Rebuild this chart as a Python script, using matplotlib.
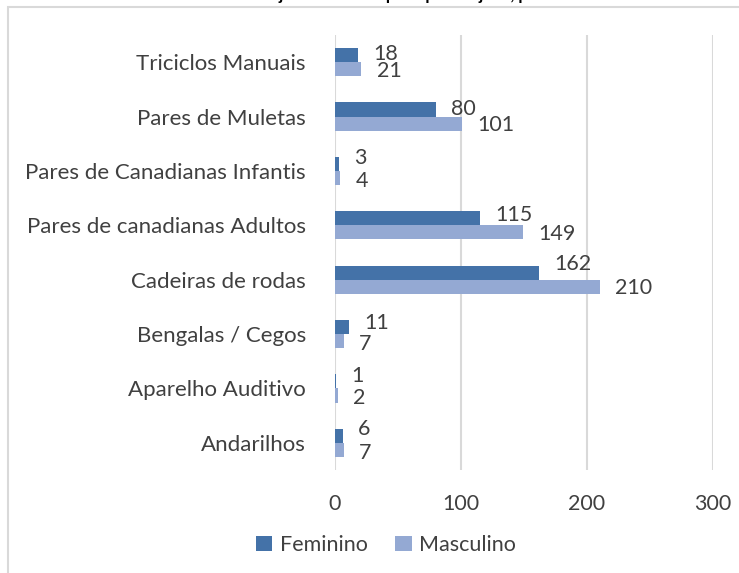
import numpy as np
import matplotlib.pyplot as plt
from matplotlib.patches import Rectangle

categorias = ['Andarilhos', 'Aparelho Auditivo', 'Bengalas / Cegos', 'Cadeiras de rodas',
              'Pares de canadianas Adultos', 'Pares de Canadianas Infantis',
              'Pares de Muletas', 'Triciclos Manuais']
feminino = [6, 1, 11, 162, 115, 3, 80, 18]
masculino = [7, 2, 7, 210, 149, 4, 101, 21]
xticks = [0, 100, 200, 300]

cor_fem = '#4472A8'
cor_masc = '#94A9D3'
cinza = '#404040'

plt.rcParams['font.family'] = ['Lato', 'DejaVu Sans']

fig = plt.figure(figsize=(7.39, 5.73), dpi=100)

# moldura do grafico (cortada a direita e em baixo)
fig.patches.append(Rectangle((8 / 739, -0.1), 1.2, 1.1 - 7 / 573, transform=fig.transFigure,
                             fill=False, edgecolor='#D9D9D9', linewidth=1.5))

# titulo cortado no topo
fig.text(-0.01, 1.0, 'Gráfico 12 - Número de cedências de ajudas técnicas por tipo de ajuda, por sexo',
         fontsize=12, fontweight='bold', va='baseline', ha='left', color='black')

ax = fig.add_axes([335 / 739, 1 - 470 / 573, 378 / 739, 435 / 573])

y = np.arange(len(categorias))
h = 0.26
b1 = ax.barh(y + h / 2, feminino, height=h, color=cor_fem, label='Feminino', zorder=3)
b2 = ax.barh(y - h / 2, masculino, height=h, color=cor_masc, label='Masculino', zorder=3)

# pequenos desvios verticais dos rotulos (como o Excel os afasta)
dy_fem = [5, 4, 3, 6, 2, 4, 0, 1]
dy_masc = [-2, -2, -2, -1, -1, -2, -1, -1]
for bars, dys in ((b1, dy_fem), (b2, dy_masc)):
    for bar, dy in zip(bars, dys):
        w = bar.get_width()
        ax.annotate(str(int(w)), (w, bar.get_y() + bar.get_height() / 2),
                    xytext=(11, dy), textcoords='offset points',
                    va='center', ha='left', fontsize=15.5, color=cinza)

ax.set_xlim(0, 300)
ax.set_ylim(-0.5, len(categorias) - 0.5)
ax.set_xticks(xticks)
ax.set_yticks(y)
ax.set_yticklabels(categorias)
ax.tick_params(axis='x', length=0, pad=17, labelsize=15.5, labelcolor=cinza)
ax.tick_params(axis='y', length=0, pad=21, labelsize=16, labelcolor=cinza)
for s in ax.spines.values():
    s.set_visible(False)
ax.grid(axis='x', color='#D9D9D9', linewidth=1.5, zorder=0)

ax.legend(loc='center', bbox_to_anchor=(386 / 739, 1 - 545 / 573), bbox_transform=fig.transFigure,
          ncol=2, frameon=False, fontsize=15.5, labelcolor=cinza, handlelength=0.75, handleheight=0.75,
          handletextpad=0.35, columnspacing=1.3)

fig.savefig('out.png', dpi=100)
